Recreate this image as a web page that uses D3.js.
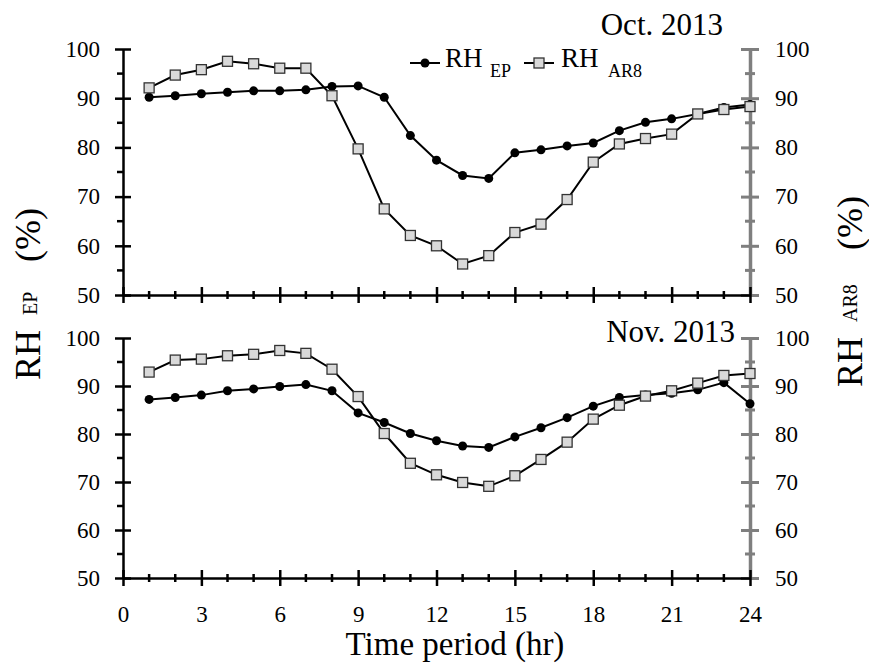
<!DOCTYPE html>
<html lang="en">
<head>
    <meta charset="UTF-8">
    <title>RH EP vs RH AR8</title>
    <style>
        body {
            margin: 0;
            background-color: #ffffff;
        }
        svg {
            display: block;
        }
        text {
            font-family: "Liberation Serif", "Times New Roman", serif;
            fill: #000;
        }
        .tick text {
            font-size: 23px;
        }
    </style>
</head>
<body>
<script src="https://d3js.org/d3.v7.min.js"></script>
<script>
    var serif = "Liberation Serif, Times New Roman, serif";

    // hour of day
    var hours = [1, 2, 3, 4, 5, 6, 7, 8, 9, 10, 11, 12, 13, 14, 15, 16, 17, 18, 19, 20, 21, 22, 23, 24];

    // Oct. 2013 (%)
    var octEP  = [90.2, 90.5, 90.9, 91.2, 91.5, 91.5, 91.7, 92.4, 92.5, 90.2, 82.4, 77.4, 74.3, 73.7, 78.9, 79.5, 80.3, 80.9, 83.4, 85.1, 85.8, 86.8, 88.1, 88.7];
    var octAR8 = [92.1, 94.7, 95.8, 97.5, 97.0, 96.1, 96.1, 90.5, 79.7, 67.5, 62.1, 60.0, 56.3, 58.0, 62.7, 64.4, 69.4, 77.0, 80.7, 81.8, 82.7, 86.8, 87.7, 88.3];

    // Nov. 2013 (%)
    var novEP  = [87.2, 87.6, 88.1, 89.0, 89.4, 89.9, 90.3, 89.0, 84.4, 82.4, 80.1, 78.6, 77.5, 77.2, 79.4, 81.3, 83.4, 85.8, 87.6, 88.1, 88.5, 89.2, 90.7, 86.3];
    var novAR8 = [92.9, 95.4, 95.6, 96.3, 96.6, 97.4, 96.8, 93.5, 87.8, 80.1, 73.9, 71.5, 69.9, 69.1, 71.3, 74.7, 78.3, 83.1, 86.0, 87.9, 89.0, 90.6, 92.2, 92.6];

    var xTicks = [0, 3, 6, 9, 12, 15, 18, 21, 24];
    var yTicks = [50, 60, 70, 80, 90, 100];
    var yMinor = [55, 65, 75, 85, 95];
    var xMinor = hours.filter(function(h) { return h % 3 !== 0; });

    var width = 869, height = 667;

    var svg = d3.select("body").append("svg")
        .attr("width", width)
        .attr("height", height);

    var x = d3.scaleLinear().domain([0, 24]).range([123, 750]);

    var panels = [
        {title: "Oct. 2013", ep: octEP, ar8: octAR8, top: 49, bottom: 295, titleX: 723, titleY: 35, labels: false},
        {title: "Nov. 2013", ep: novEP, ar8: novAR8, top: 338, bottom: 578, titleX: 735, titleY: 342, labels: true}
    ];

    panels.forEach(function(p) {
        var y = d3.scaleLinear().domain([50, 100]).range([p.bottom, p.top]);
        var g = svg.append("g");

        // left axis (black)
        var left = g.append("g")
            .attr("transform", "translate(" + x(0) + ",0)")
            .call(d3.axisLeft(y).tickValues(yTicks).tickSize(8).tickPadding(15).tickSizeOuter(0));
        left.selectAll(".tick line").attr("x1", 8).attr("stroke-width", 2.5);
        left.select(".domain").attr("stroke-width", 2.5);
        left.append("g").selectAll("line")
            .data(yMinor).enter().append("line")
            .attr("x1", -6).attr("x2", 0)
            .attr("y1", d => y(d)).attr("y2", d => y(d))
            .attr("stroke", "#000").attr("stroke-width", 2.5);

        // right axis (grey)
        var right = g.append("g")
            .attr("transform", "translate(" + x(24) + ",0)")
            .call(d3.axisRight(y).tickValues(yTicks).tickSize(9).tickPadding(16).tickSizeOuter(0));
        right.selectAll(".tick line").attr("x1", -9).attr("stroke", "#7f7f7f").attr("stroke-width", 3);
        right.select(".domain").attr("stroke", "#7f7f7f").attr("stroke-width", 3.5);
        right.append("g").selectAll("line")
            .data(yMinor).enter().append("line")
            .attr("x1", -5).attr("x2", 5)
            .attr("y1", d => y(d)).attr("y2", d => y(d))
            .attr("stroke", "#7f7f7f").attr("stroke-width", 3);

        // bottom axis
        var bottom = g.append("g")
            .attr("transform", "translate(0," + p.bottom + ")")
            .call(d3.axisBottom(x).tickValues(xTicks).tickSize(8).tickPadding(20).tickSizeOuter(0)
                .tickFormat(p.labels ? d3.format("d") : ""));
        bottom.selectAll(".tick line").attr("y1", -8).attr("stroke-width", 2.5);
        bottom.select(".domain").attr("stroke-width", 2.5);
        bottom.append("g").selectAll("line")
            .data(xMinor).enter().append("line")
            .attr("x1", d => x(d)).attr("x2", d => x(d))
            .attr("y1", -4).attr("y2", 4)
            .attr("stroke", "#000").attr("stroke-width", 2.5);

        [left, right, bottom].forEach(function(a) {
            a.attr("font-family", serif).attr("font-size", 23);
        });
        g.selectAll(".tick text").attr("fill", "#000").style("font-family", serif);

        var line = d3.line()
            .x((d, i) => x(hours[i]))
            .y(d => y(d));

        // RH EP
        g.append("path")
            .datum(p.ep)
            .attr("fill", "none")
            .attr("stroke", "#000")
            .attr("stroke-width", 2)
            .attr("d", line);
        g.append("g").selectAll("circle")
            .data(p.ep).enter().append("circle")
            .attr("cx", (d, i) => x(hours[i]))
            .attr("cy", d => y(d))
            .attr("r", 4.5)
            .attr("fill", "#000");

        // RH AR8
        g.append("path")
            .datum(p.ar8)
            .attr("fill", "none")
            .attr("stroke", "#000")
            .attr("stroke-width", 2)
            .attr("d", line);
        g.append("g").selectAll("rect")
            .data(p.ar8).enter().append("rect")
            .attr("x", (d, i) => x(hours[i]) - 5)
            .attr("y", d => y(d) - 5)
            .attr("width", 10)
            .attr("height", 10)
            .attr("fill", "#d9d9d9")
            .attr("stroke", "#333")
            .attr("stroke-width", 1.3);

        g.append("text")
            .attr("x", p.titleX)
            .attr("y", p.titleY)
            .attr("text-anchor", "end")
            .attr("font-size", 31)
            .text(p.title);
    });

    // legend
    var legend = svg.append("g");
    legend.append("line").attr("x1", 410).attr("x2", 440).attr("y1", 63).attr("y2", 63)
        .attr("stroke", "#000").attr("stroke-width", 2);
    legend.append("circle").attr("cx", 425).attr("cy", 63).attr("r", 4.5).attr("fill", "#000");
    legend.append("text").attr("x", 445).attr("y", 67).attr("font-size", 27).text("RH");
    legend.append("text").attr("x", 490).attr("y", 77).attr("font-size", 18).text("EP");

    legend.append("line").attr("x1", 524).attr("x2", 554).attr("y1", 63).attr("y2", 63)
        .attr("stroke", "#000").attr("stroke-width", 2);
    legend.append("rect").attr("x", 534).attr("y", 58).attr("width", 10).attr("height", 10)
        .attr("fill", "#d9d9d9").attr("stroke", "#333").attr("stroke-width", 1.3);
    legend.append("text").attr("x", 561).attr("y", 67).attr("font-size", 27).text("RH");
    legend.append("text").attr("x", 608).attr("y", 77).attr("font-size", 18).text("AR8");

    // axis titles
    var yl = svg.append("g").attr("transform", "translate(40,0) rotate(-90)");
    yl.append("text").attr("x", -380).attr("y", 0).attr("font-size", 36).text("RH");
    yl.append("text").attr("x", -315).attr("y", -3).attr("font-size", 20).text("EP");
    yl.append("text").attr("x", -262).attr("y", 0).attr("font-size", 36).text("(%)");

    var yr = svg.append("g").attr("transform", "translate(862,0) rotate(-90)");
    yr.append("text").attr("x", -387).attr("y", 0).attr("font-size", 36).text("RH");
    yr.append("text").attr("x", -322).attr("y", -5).attr("font-size", 20).text("AR8");
    yr.append("text").attr("x", -250).attr("y", 0).attr("font-size", 36).text("(%)");

    svg.append("text")
        .attr("x", 455)
        .attr("y", 655)
        .attr("text-anchor", "middle")
        .attr("font-size", 33)
        .text("Time period (hr)");
</script>
</body>
</html>
